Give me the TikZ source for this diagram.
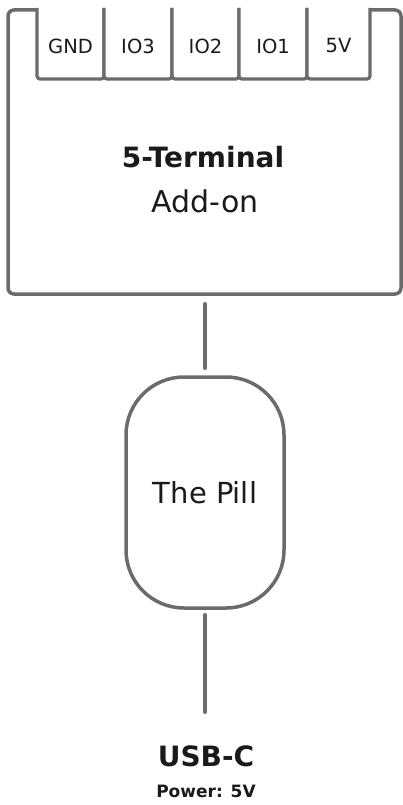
\documentclass[tikz,border=0pt]{standalone}
\usepackage{fontspec}
\setmainfont{DejaVu Sans}
\definecolor{edge}{HTML}{6B6B6B}
\definecolor{ink}{HTML}{1A1A1A}
\begin{document}
\begin{tikzpicture}[x=1pt,y=-1pt,
  outline/.style={draw=edge,line width=3.5pt},
  termbox/.style={draw=edge,line width=3.2pt,fill=white,rounded corners=3pt},
  termlabel/.style={text=ink,inner sep=0pt,font=\fontsize{19.5}{22}\selectfont},
  wire/.style={draw=edge,line width=4pt,line cap=round},
  lbl/.style={text=ink,inner sep=0pt}]
\useasboundingbox (0,0) rectangle (403,805);
% main add-on box
\draw[outline,rounded corners=6pt] (8,10) rectangle (401,294);
% terminals
\foreach \xa/\xb/\nm/\txt in {37/104/t1/GND,104/172/t2/IO3,172/239/t3/IO2,239/307/t4/IO1,307/370/t5/5V}{
  \draw[termbox] (\xa,8) -- (\xa,79) -- (\xb,79) -- (\xb,8);
  \node[termlabel] (\nm) at ({(\xa+\xb)/2},46) {\txt};
}
\node[lbl,font=\bfseries\fontsize{28}{32}\selectfont] (title) at (203,157) {5-Terminal};
\node[lbl,font=\fontsize{30}{34}\selectfont] (addon) at (205,201) {Add-on};
% pill
\node[outline,rounded corners=58pt,minimum width=158pt,minimum height=231pt,inner sep=0pt,
  font=\fontsize{29}{33}\selectfont,text=ink] (pill) at (205,492.5) {The Pill};
% usb
\node[lbl,font=\bfseries\fontsize{28}{31}\selectfont] (usb) at (206,756) {USB-C};
\node[lbl,font=\bfseries\fontsize{17}{20}\selectfont] (power) at (206,791) {Power: 5V};
\coordinate (w1a) at (205,304);
\coordinate (w1b) at (205,368);
\coordinate (w2a) at (205,615);
\coordinate (w2b) at (205,712);
\draw[wire] (w1a) -- (w1b);
\draw[wire] (w2a) -- (w2b);
\end{tikzpicture}
\end{document}
